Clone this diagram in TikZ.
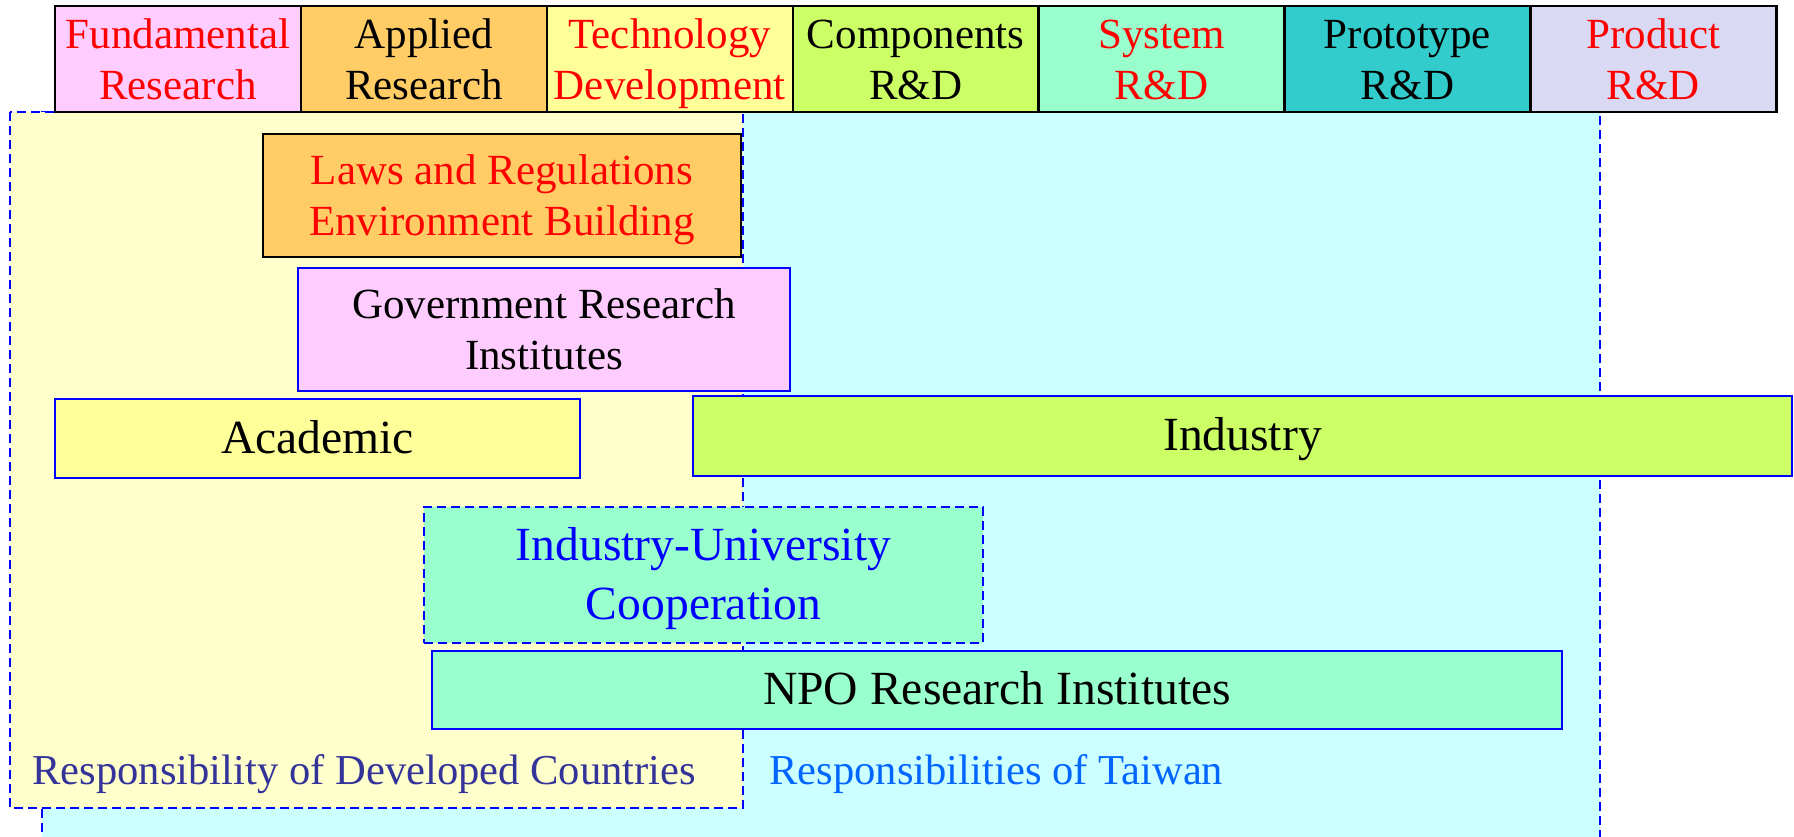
\documentclass[tikz,border=0pt]{standalone}
\usepackage{fontspec}
\setmainfont{Liberation Serif}
\definecolor{cPink}{HTML}{FFCCFF}
\definecolor{cOrange}{HTML}{FFCC66}
\definecolor{cYellow}{HTML}{FFFF99}
\definecolor{cLime}{HTML}{CCFF66}
\definecolor{cMint}{HTML}{99FFCC}
\definecolor{cTeal}{HTML}{33CCCC}
\definecolor{cLav}{HTML}{D9D9F3}
\definecolor{cYelReg}{HTML}{FFFFCC}
\definecolor{cCyanReg}{HTML}{CCFFFF}
\definecolor{cRed}{HTML}{FF0000}
\definecolor{cBlue}{HTML}{0000FF}
\definecolor{cNavy}{HTML}{333399}
\definecolor{cSky}{HTML}{0066FF}
\newcommand{\dgsmall}{\fontsize{21.5}{25.4}\selectfont}
\newcommand{\dgbig}{\fontsize{23.8}{29.5}\selectfont}
\newcommand{\dglabel}{\fontsize{21.3}{24}\selectfont}
\newcommand{\dgline}[1]{\rule[-1pt]{0pt}{16.8pt}\smash{#1}}
\tikzset{
  hdrcell/.style={draw=black, line width=1.2pt, minimum width=122.95pt, minimum height=53pt, inner sep=0pt, align=center, font=\dgsmall},
  bluebox/.style={draw=cBlue, line width=1pt, inner sep=0pt, align=center},
  regdash/.style={draw=cBlue, line width=1pt, dash pattern=on 4.5pt off 2.5pt},
  reglabel/.style={anchor=base west, inner sep=0pt, font=\dglabel}
}
\begin{document}
\begin{tikzpicture}[x=0.5pt,y=-0.5pt]
\useasboundingbox (0,0) rectangle (1794,836);
\clip (0,0) rectangle (1794,836);
% regions
\fill[cCyanReg] (42,112) rectangle (1600,860);
\draw[regdash] (42,860) -- (42,112) -- (1600,112) -- (1600,860);
\fill[cYelReg] (10,112) rectangle (743,808);
\draw[regdash] (10,112) rectangle (743,808);
% header
\node[hdrcell, fill=cPink, text=cRed] (h1) at (177.95,59) {\dgline{Fundamental}\\\dgline{Research}};
\node[hdrcell, fill=cOrange, text=black] (h2) at (423.85,59) {\dgline{Applied}\\\dgline{Research}};
\node[hdrcell, fill=cYellow, text=cRed] (h3) at (669.75,59) {\dgline{Technology}\\\dgline{Development}};
\node[hdrcell, fill=cLime, text=black] (h4) at (915.65,59) {\dgline{Components}\\\dgline{R\&D}};
\node[hdrcell, fill=cMint, text=cRed] (h5) at (1161.55,59) {\dgline{System}\\\dgline{R\&D}};
\node[hdrcell, fill=cTeal, text=black] (h6) at (1407.45,59) {\dgline{Prototype}\\\dgline{R\&D}};
\node[hdrcell, fill=cLav, text=cRed] (h7) at (1653.35,59) {\dgline{Product}\\\dgline{R\&D}};
% boxes
\node[draw=black, line width=1.2pt, inner sep=0pt, align=center, fill=cOrange, text=cRed, font=\dgsmall,
      minimum width=239pt, minimum height=61.5pt] (laws) at (502,195.5) {\dgline{Laws and Regulations}\\\dgline{Environment Building}};
\node[bluebox, fill=cPink, font=\dgsmall, minimum width=246pt, minimum height=61.5pt] (gov) at (544,329.5) {\dgline{Government Research}\\\dgline{Institutes}};
\node[bluebox, fill=cYellow, font=\dgbig, minimum width=262.5pt, minimum height=39.5pt] (acad) at (317.5,438.5) {\dgline{Academic}};
\node[bluebox, fill=cLime, font=\dgbig, minimum width=549.5pt, minimum height=40pt] (ind) at (1242.5,436) {\dgline{Industry}};
\node[bluebox, regdash, fill=cMint, text=cBlue, font=\dgbig, minimum width=279.5pt, minimum height=68pt] (iuc) at (703.5,575) {\dgline{Industry-University}\\\dgline{Cooperation}};
\node[bluebox, fill=cMint, font=\dgbig, minimum width=565pt, minimum height=39pt] (npo) at (997,690) {\dgline{NPO Research Institutes}};
% labels
\node[reglabel, text=cNavy] (ldev) at (32,784) {Responsibility of Developed Countries};
\node[reglabel, text=cSky] (ltw) at (769,784) {Responsibilities of Taiwan};
\end{tikzpicture}
\end{document}
